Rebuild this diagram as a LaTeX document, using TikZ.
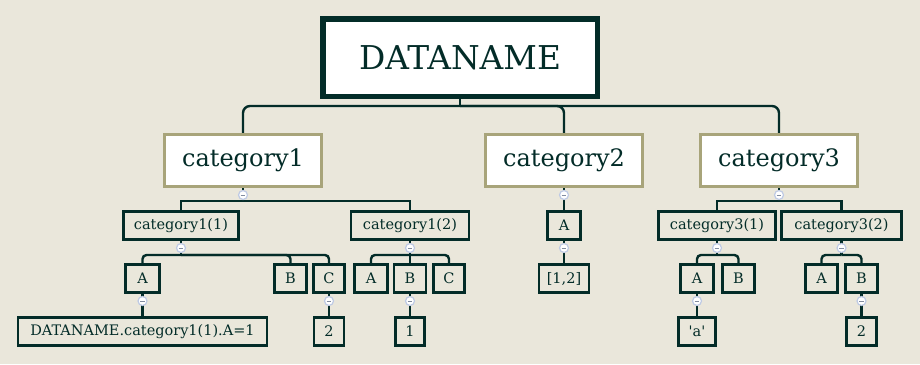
\documentclass[tikz,border=0pt]{standalone}
\usepackage{fontspec}
\setmainfont{DejaVu Serif}
\definecolor{bg}{RGB}{234,231,219}
\definecolor{dark}{RGB}{3,44,40}
\definecolor{khaki}{RGB}{168,164,122}
\definecolor{mblue}{RGB}{190,202,228}
\definecolor{mgray}{RGB}{130,140,160}
\begin{document}
\begin{tikzpicture}[x=1pt,y=-1pt,
  rootbox/.style={draw=dark, line width=5.5pt, fill=white, minimum width=274.5pt, minimum height=77.5pt, inner sep=0pt, text=dark, font=\fontsize{32.8}{36}\selectfont},
  catbox/.style={draw=khaki, line width=3.2pt, fill=white, minimum width=157pt, minimum height=52pt, inner sep=0pt, text=dark, font=\fontsize{24}{28}\selectfont},
  leaf/.style={draw=dark, line width=2.8pt, fill=bg, minimum height=28pt, inner sep=0pt, text=dark, font=\fontsize{14.5}{17}\selectfont, minimum width=#1},
  leaf/.default=34pt,
  conn/.style={draw=dark, line width=2.4pt},
  mcirc/.style={circle, draw=mblue, fill=white, line width=1.2pt, minimum size=9pt, inner sep=0pt,
    path picture={\draw[mgray, line width=1pt] ([xshift=-2.4pt]path picture bounding box.center) -- ([xshift=2.4pt]path picture bounding box.center);}}
]
\fill[bg] (0,0) rectangle (920,364);
\useasboundingbox (0,0) rectangle (920,364);

% nodes
\node[rootbox] (root) at (460,57.5) {DATANAME};
\node[catbox] (cat1) at (243,160.5) {category1};
\node[catbox] (cat2) at (564,160.5) {category2};
\node[catbox] (cat3) at (779,160.5) {category3};

\node[leaf=115pt] (c11) at (181,225.5) {category1(1)};
\node[leaf=118pt] (c12) at (410,225.5) {category1(2)};
\node[leaf=33pt] (c2A) at (564,225.5) {A};
\node[leaf=117pt] (c31) at (717,225.5) {category3(1)};
\node[leaf=120pt] (c32) at (841.5,225.5) {category3(2)};

\node[leaf=34pt] (c11A) at (142.5,278.5) {A};
\node[leaf=32pt] (c11B) at (290.5,278.5) {B};
\node[leaf=31pt] (c11C) at (329,278.5) {C};
\node[leaf=33pt] (c12A) at (371,278.5) {A};
\node[leaf=32pt] (c12B) at (410,278.5) {B};
\node[leaf=31pt] (c12C) at (449,278.5) {C};
\node[leaf=50pt] (c2v) at (564,278.5) {[1,2]};
\node[leaf=33pt] (c31A) at (697,278.5) {A};
\node[leaf=32pt] (c31B) at (738.5,278.5) {B};
\node[leaf=32pt] (c32A) at (821.5,278.5) {A};
\node[leaf=32pt] (c32B) at (861.5,278.5) {B};

\node[leaf=249pt] (v1) at (142.5,331.5) {DATANAME.category1(1).A=1};
\node[leaf=30pt] (v2) at (329,331.5) {2};
\node[leaf=29pt] (v3) at (410,331.5) {1};
\node[leaf=37pt] (v4) at (697,331.5) {\textquotesingle a\textquotesingle};
\node[leaf=30pt] (v5) at (861.5,331.5) {2};

% bus coordinates
\coordinate (b0) at (460,106);
\coordinate (b1) at (243,201);
\coordinate (b3) at (779,201);
\coordinate (b11) at (181,255);
\coordinate (b12) at (410,255);
\coordinate (b31) at (717,255);
\coordinate (b32) at (841.5,255);

% connectors
\path[conn] (root.south) -- (b0);
\foreach \c in {cat1,cat2,cat3} \path[conn,rounded corners=7pt] (b0) -| (\c.north);
\path[conn] (cat1.south) -- (b1);
\foreach \c in {c11,c12} \path[conn] (b1) -| (\c.north);
\path[conn] (cat2.south) -- (c2A.north);
\path[conn] (cat3.south) -- (b3);
\foreach \c in {c31,c32} \path[conn] (b3) -| (\c.north);
\path[conn] (c11.south) -- (b11);
\foreach \c in {c11A,c11B,c11C} \path[conn,rounded corners=4pt] (b11) -| (\c.north);
\path[conn] (c12.south) -- (c12B.north);
\foreach \c in {c12A,c12C} \path[conn,rounded corners=4pt] (b12) -| (\c.north);
\path[conn] (c2A.south) -- (c2v.north);
\path[conn] (c31.south) -- (b31);
\foreach \c in {c31A,c31B} \path[conn,rounded corners=4pt] (b31) -| (\c.north);
\path[conn] (c32.south) -- (b32);
\foreach \c in {c32A,c32B} \path[conn,rounded corners=4pt] (b32) -| (\c.north);
\path[conn] (c11A.south) -- (v1.north);
\path[conn] (c11C.south) -- (v2.north);
\path[conn] (c12B.south) -- (v3.north);
\path[conn] (c31A.south) -- (v4.north);
\path[conn] (c32B.south) -- (v5.north);

% minus markers
\node[mcirc] (m1) at (243,195) {};
\node[mcirc] (m2) at (564,195) {};
\node[mcirc] (m3) at (779,195) {};
\node[mcirc] (m11) at (181,248) {};
\node[mcirc] (m12) at (410,248) {};
\node[mcirc] (m2A) at (564,248) {};
\node[mcirc] (m31) at (717,248) {};
\node[mcirc] (m32) at (841.5,248) {};
\node[mcirc] (m11A) at (142.5,301) {};
\node[mcirc] (m11C) at (329,301) {};
\node[mcirc] (m12B) at (410,301) {};
\node[mcirc] (m31A) at (697,301) {};
\node[mcirc] (m32B) at (861.5,301) {};
\end{tikzpicture}
\end{document}
